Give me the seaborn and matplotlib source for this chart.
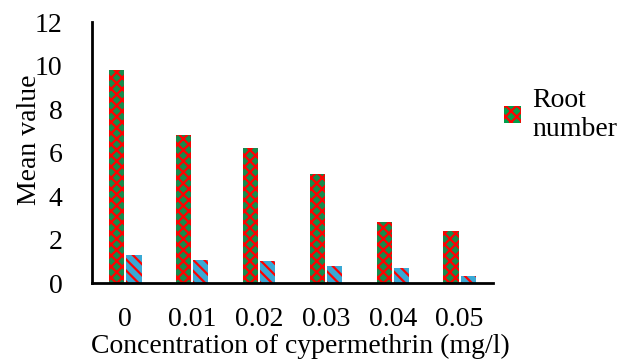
import pandas as pd
import matplotlib
matplotlib.use("Agg")
import matplotlib.pyplot as plt
import seaborn as sns
from matplotlib.patches import Patch

# Data
concentrations = ["0", "0.01", "0.02", "0.03", "0.04", "0.05"]
root_number = [9.8, 6.8, 6.2, 5.0, 2.8, 2.4]
root_length = [1.3, 1.05, 1.0, 0.8, 0.7, 0.3]
series_names = ["Root number", "Root length"]

df = pd.DataFrame({
    "conc": concentrations * 2,
    "value": root_number + root_length,
    "series": [series_names[0]] * 6 + [series_names[1]] * 6,
})

sns.set_theme(style="white")
plt.rcParams["font.family"] = ["Liberation Serif", "DejaVu Serif"]
plt.rcParams["text.color"] = "black"
plt.rcParams["axes.labelcolor"] = "black"
plt.rcParams["hatch.linewidth"] = 1.6

fig = plt.figure(figsize=(6.25, 3.64), dpi=100)
ax = fig.add_axes([0.147, 0.2225, 0.642, 0.717])

sns.barplot(data=df, x="conc", y="value", hue="series", order=concentrations,
            hue_order=series_names, palette=["#00a04a", "#1fb4ef"],
            width=0.52, gap=0.13, ax=ax, legend=False)

hatches = ["xxx", "\\\\\\"]
for cont, h in zip(ax.containers, hatches):
    for bar in cont:
        bar.set_hatch(h)
        bar.set_edgecolor("red")
        bar.set_linewidth(0)

ax.set_ylim(0, 12)
ax.set_yticks(range(0, 13, 2))
ax.set_xlim(-0.5, 5.5)
ax.tick_params(axis="both", length=0, labelsize=20, colors="black")
ax.tick_params(axis="y", pad=21)
ax.tick_params(axis="x", pad=17)

for s in ["top", "right"]:
    ax.spines[s].set_visible(False)
for s in ["left", "bottom"]:
    ax.spines[s].set_color("black")
    ax.spines[s].set_linewidth(2)

ax.set_xlabel("Concentration of cypermethrin (mg/l)", fontsize=20, color="black")
ax.set_ylabel("Mean value", fontsize=20, color="black")
ax.xaxis.set_label_coords(0.52, -0.195)
ax.yaxis.set_label_coords(-0.125, 0.55)

handle = Patch(facecolor="#00a04a", edgecolor="red", hatch="xxx", linewidth=0)
ax.legend([handle], ["Root\nnumber"], loc="upper left", bbox_to_anchor=(1.0, 0.79),
          frameon=False, fontsize=20, handlelength=0.6, handleheight=0.6,
          handletextpad=0.4, borderaxespad=0, labelcolor="black")

fig.savefig("out.png", dpi=100)
